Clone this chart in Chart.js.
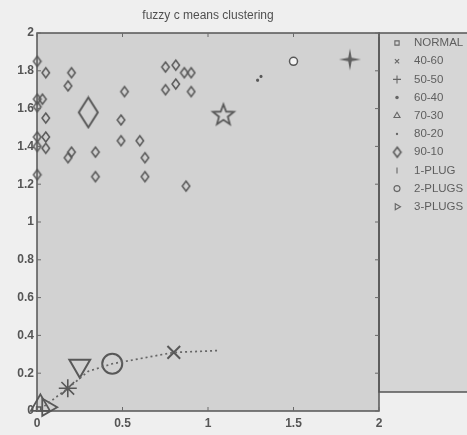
<!DOCTYPE html>
<html><head><meta charset="utf-8">
<script src="https://cdn.jsdelivr.net/npm/chart.js@4/dist/chart.umd.min.js"></script>
<style>html,body{margin:0;padding:0;background:#efefef;overflow:hidden}</style>
</head><body>
<canvas id="c" width="467" height="435" style="width:467px;height:435px;display:block"></canvas>
<script>
// ---------- data ----------
const titleText = 'fuzzy c means clustering';
const seriesLabels = ['NORMAL','40-60','50-50','60-40','70-30','80-20','90-10','1-PLUG','2-PLUGS','3-PLUGS'];
const xTicks = [0, 0.5, 1, 1.5, 2];
const yTicks = [0, 0.2, 0.4, 0.6, 0.8, 1, 1.2, 1.4, 1.6, 1.8, 2];

const normalX = [0.01];           const normalY = [0.01];
const s4060X = [0.80];            const s4060Y = [0.31];
const s5050X = [1.83];            const s5050Y = [1.86];
const s6040X = [0.18, 1.29, 1.31];const s6040Y = [0.12, 1.75, 1.77];
const s7030X = [0.02];            const s7030Y = [0.03];
const s8020X = [0.25];            const s8020Y = [0.24];
const s9010X = [0.00,0.05,0.20,0.18,0.00,0.03,0.00,0.05,0.00,0.05,0.00,0.05,0.20,0.18,0.00,0.34,0.34,
                0.51,0.49,0.49,0.60,0.63,0.63,0.75,0.81,0.86,0.90,0.75,0.81,0.90,0.87];
const s9010Y = [1.85,1.79,1.79,1.72,1.65,1.65,1.61,1.55,1.45,1.45,1.40,1.39,1.37,1.34,1.25,1.37,1.24,
                1.69,1.54,1.43,1.43,1.34,1.24,1.82,1.83,1.79,1.79,1.70,1.73,1.69,1.19];
const c9010X = [0.30];            const c9010Y = [1.58];
const s1plugX = [1.09];           const s1plugY = [1.57];
const s2plugX = [0.44, 1.50];     const s2plugY = [0.25, 1.85];
const s3plugX = [0.06];           const s3plugY = [0.02];
const trajX = [0.02, 0.18, 0.30, 0.44, 0.80, 1.07];
const trajY = [0.01, 0.12, 0.21, 0.25, 0.31, 0.32];

// ---------- helpers ----------
const pts = (xs, ys) => xs.map((x, i) => ({x, y: ys[i]}));
const INK = '#585858';
function mk(w, h, fn) {
  const c = document.createElement('canvas'); c.width = w; c.height = h;
  const g = c.getContext('2d'); g.strokeStyle = INK; g.fillStyle = INK; fn(g, w, h); return c;
}
const diamond = (w, h, lw) => mk(w + 4, h + 4, (g, W, H) => {
  g.lineWidth = lw; g.beginPath();
  g.moveTo(W/2, 2); g.lineTo(W-2, H/2); g.lineTo(W/2, H-2); g.lineTo(2, H/2); g.closePath(); g.stroke();
});
const pentagram = (R, lw) => mk(2*R + 6, 2*R + 6, (g, W, H) => {
  g.lineWidth = lw; g.beginPath();
  for (let i = 0; i < 10; i++) {
    const r = i % 2 ? R * 0.42 : R, a = -Math.PI/2 + i * Math.PI/5;
    const px = W/2 + r*Math.cos(a), py = H/2 + 1 + r*Math.sin(a);
    i ? g.lineTo(px, py) : g.moveTo(px, py);
  }
  g.closePath(); g.stroke();
});
const sparkle = (R) => mk(2*R + 4, 2*R + 4, (g, W, H) => {
  g.fillStyle = '#606060'; g.beginPath();
  for (let i = 0; i < 8; i++) {
    const r = i % 2 ? R * 0.22 : R, a = -Math.PI/2 + i * Math.PI/4;
    const px = W/2 + r*Math.cos(a), py = H/2 + r*Math.sin(a);
    i ? g.lineTo(px, py) : g.moveTo(px, py);
  }
  g.closePath(); g.fill();
});
const smallDia = diamond(7.5, 10, 1.5);
const bigDia = diamond(19, 30, 2);
const bigStar = pentagram(11, 1.8);
const bigSparkle = sparkle(11);

function ds(label, data, style, o) {
  return Object.assign({label, data, pointStyle: style, borderColor: INK, backgroundColor: 'rgba(0,0,0,0)',
    pointBorderWidth: 1.6, showLine: false, clip: false}, o);
}
const datasets = [
  ds('traj', pts(trajX, trajY), 'circle', {showLine: true, pointRadius: 0, borderWidth: 1.7,
     borderDash: [2, 3], borderColor: '#666'}),
  ds('NORMAL', pts(normalX, normalY), 'rect', {pointRadius: 3}),
  ds('40-60', pts(s4060X, s4060Y), 'crossRot', {pointRadius: 9, pointBorderWidth: 2}),
  ds('50-50', pts(s5050X, s5050Y), bigSparkle, {pointRadius: 11}),
  ds('60-40', pts(s6040X, s6040Y), 'star', {pointRadius: [9, 1.5, 1.5], pointBorderWidth: 1.6}),
  ds('70-30', pts(s7030X, s7030Y), 'triangle', {pointRadius: 11, pointBorderWidth: 1.8}),
  ds('80-20', pts(s8020X, s8020Y), 'triangle', {pointRadius: 12, pointRotation: 180, pointBorderWidth: 2}),
  ds('90-10', pts(s9010X, s9010Y), smallDia, {pointRadius: 5}),
  ds('c9010', pts(c9010X, c9010Y), bigDia, {pointRadius: 15}),
  ds('1-PLUG', pts(s1plugX, s1plugY), bigStar, {pointRadius: 12}),
  ds('2-PLUGS', pts(s2plugX, s2plugY), 'circle', {pointRadius: [10, 4], pointBorderWidth: [2, 1.5],
     backgroundColor: ['rgba(0,0,0,0)', '#f4f4f4']}),
  ds('3-PLUGS', pts(s3plugX, s3plugY), 'triangle', {pointRadius: 10, pointRotation: 90, pointBorderWidth: 1.8}),
];
const legendStyle = {
  'NORMAL': {pointStyle: 'rect', radius: 3},
  '40-60': {pointStyle: 'crossRot', radius: 3},
  '50-50': {pointStyle: 'cross', radius: 4},
  '60-40': {pointStyle: 'circle', radius: 1.2, fill: true},
  '70-30': {pointStyle: 'triangle', radius: 3.5},
  '80-20': {pointStyle: 'circle', radius: 0.6, fill: true},
  '90-10': {pointStyle: smallDia},
  '1-PLUG': {pointStyle: 'line', radius: 3, rotation: 90},
  '2-PLUGS': {pointStyle: 'circle', radius: 3},
  '3-PLUGS': {pointStyle: 'triangle', radius: 3.5, rotation: 90},
};

const FONT = '"Liberation Sans", Arial, sans-serif';
const boxPlugin = {
  id: 'box',
  beforeDraw(chart) {
    const {ctx, chartArea: a} = chart;
    ctx.save();
    ctx.fillStyle = '#d2d2d2';
    ctx.fillRect(a.left, a.top, a.right - a.left, a.bottom - a.top);
    ctx.fillStyle = '#d6d6d6';
    ctx.fillRect(a.right, a.top, 470 - a.right, 392 - a.top);
    ctx.restore();
  },
  afterDraw(chart) {
    const {ctx, chartArea: a, scales: {x, y}} = chart;
    ctx.save();
    ctx.strokeStyle = '#555'; ctx.lineWidth = 1.5;
    ctx.strokeRect(a.left, a.top, a.right - a.left, a.bottom - a.top);
    ctx.strokeRect(a.right, a.top, 480 - a.right, 392 - a.top);
    ctx.lineWidth = 1; ctx.strokeStyle = '#6a6a6a';
    xTicks.forEach(v => { const px = x.getPixelForValue(v);
      ctx.beginPath(); ctx.moveTo(px, a.bottom); ctx.lineTo(px, a.bottom - 4);
      ctx.moveTo(px, a.top); ctx.lineTo(px, a.top + 4); ctx.stroke(); });
    yTicks.forEach(v => { const py = y.getPixelForValue(v);
      ctx.beginPath(); ctx.moveTo(a.left, py); ctx.lineTo(a.left + 4, py);
      ctx.moveTo(a.right, py); ctx.lineTo(a.right - 4, py); ctx.stroke(); });
    // title
    ctx.fillStyle = '#505050'; ctx.font = '12px ' + FONT; ctx.textAlign = 'center'; ctx.textBaseline = 'middle';
    ctx.fillText(titleText, (a.left + a.right) / 2, 16);
    // legend
    ctx.font = '11.5px ' + FONT; ctx.textAlign = 'left';
    seriesLabels.forEach((lab, i) => {
      const ly = a.top + 10 + i * 18.2;
      const st = legendStyle[lab];
      ctx.fillStyle = st.fill ? '#666' : 'rgba(0,0,0,0)';
      ctx.strokeStyle = '#666'; ctx.lineWidth = 1.1;
      Chart.helpers.drawPoint(ctx, {pointStyle: st.pointStyle, radius: st.radius || 4,
        rotation: st.rotation || 0, borderWidth: 1.1}, 397, ly);
      ctx.fillStyle = '#5e5e5e';
      ctx.fillText(lab, 414, ly);
    });
    ctx.restore();
  }
};

new Chart(document.getElementById('c'), {
  type: 'scatter',
  data: {datasets},
  plugins: [boxPlugin],
  options: {
    responsive: false, animation: false,
    layout: {padding: {top: 33, right: 88, left: 0, bottom: 0}},
    plugins: {legend: {display: false}, title: {display: false}, tooltip: {enabled: false}},
    scales: {
      x: {type: 'linear', min: 0, max: 2,
        afterBuildTicks: s => { s.ticks = xTicks.map(v => ({value: v})); },
        afterFit: s => { s.height = 24; },
        grid: {display: false, drawTicks: false}, border: {display: false},
        ticks: {padding: 5, color: '#555', font: {family: FONT, size: 12, weight: 'bold'},
          callback: v => String(v)}},
      y: {type: 'linear', min: 0, max: 2,
        afterBuildTicks: s => { s.ticks = yTicks.map(v => ({value: v})); },
        afterFit: s => { s.width = 37; },
        grid: {display: false, drawTicks: false}, border: {display: false},
        ticks: {padding: 3, color: '#555', font: {family: FONT, size: 12, weight: 'bold'},
          callback: v => String(v)}}
    }
  }
});
</script>
</body></html>
